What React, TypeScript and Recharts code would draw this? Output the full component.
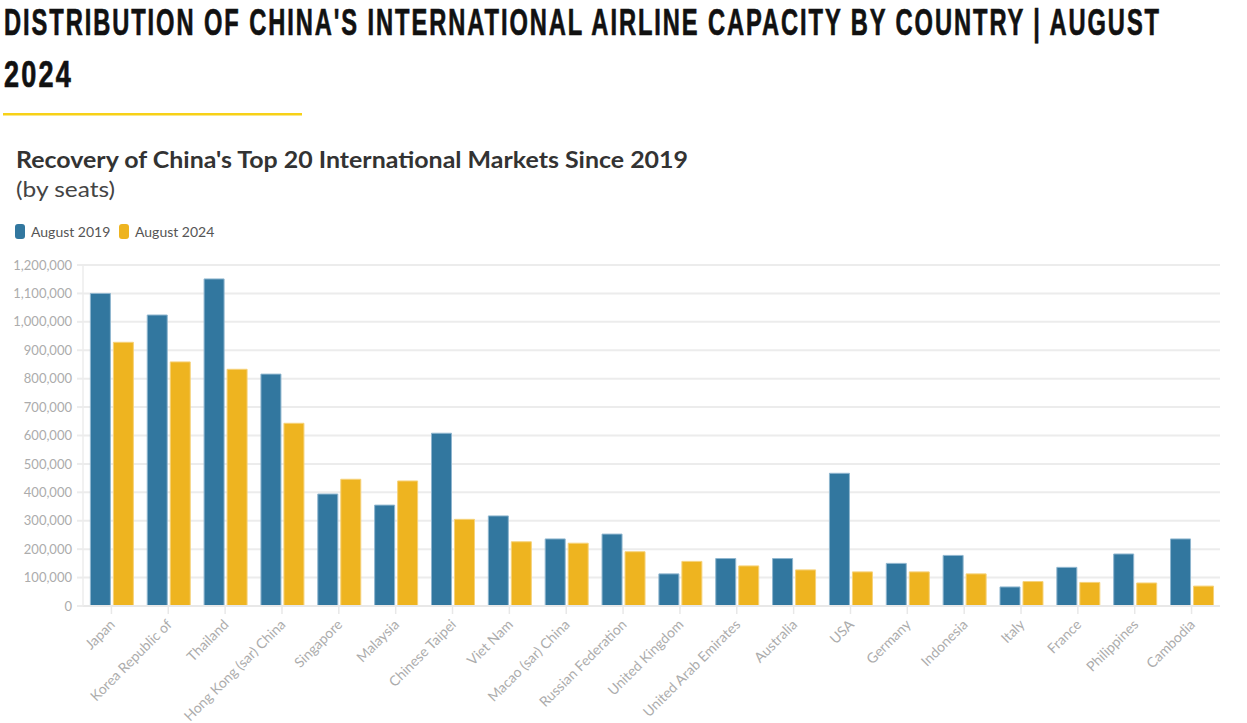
// @ts-nocheck
import React from 'react';
import { BarChart, Bar, XAxis, YAxis, CartesianGrid } from 'recharts';

const countries = [
  'Japan',
  'Korea Republic of',
  'Thailand',
  'Hong Kong (sar) China',
  'Singapore',
  'Malaysia',
  'Chinese Taipei',
  'Viet Nam',
  'Macao (sar) China',
  'Russian Federation',
  'United Kingdom',
  'United Arab Emirates',
  'Australia',
  'USA',
  'Germany',
  'Indonesia',
  'Italy',
  'France',
  'Philippines',
  'Cambodia',
];

const aug2019 = [
  1100000, 1024000, 1151000, 816000, 394000, 355000, 608000, 317000, 236000, 253000,
  113000, 167000, 167000, 467000, 150000, 178000, 67000, 136000, 183000, 236000,
];

const aug2024 = [
  928000, 859000, 833000, 643000, 446000, 440000, 305000, 226000, 221000, 191000,
  157000, 141000, 127000, 120000, 120000, 113000, 86000, 83000, 81000, 70000,
];

const yTicks = [0, 100000, 200000, 300000, 400000, 500000, 600000, 700000, 800000, 900000, 1000000, 1100000, 1200000];

const BLUE = '#32779f';
const YELLOW = '#eeb420';
const FONT = 'Lato, "Noto Sans", sans-serif';
const TITLE_FONT = '"Liberation Sans", "DejaVu Sans", sans-serif';

const data = countries.map((c, i) => ({ country: c, y2019: aug2019[i], y2024: aug2024[i] }));

const XTick = ({ x, y, payload }) => (
  <g transform={`translate(${x + 1},${y + 6}) rotate(-45)`}>
    <text x={0} y={0} dy="0.35em" textAnchor="end" fill="#acacac" fontSize={14} fontFamily={FONT}>
      {payload.value}
    </text>
  </g>
);

export default function App() {
  return (
    <div style={{ position: 'absolute', left: 0, top: 0, width: 1247, height: 723, background: '#fff', overflow: 'hidden' }}>
      <svg width={1247} height={250} style={{ position: 'absolute', left: 0, top: 0 }}>
        <text x={4} y={35} fontFamily={TITLE_FONT} fontWeight={700} fontSize={37} letterSpacing={3} fill="#111" stroke="#111" strokeWidth={0.7} textLength={1157} lengthAdjust="spacingAndGlyphs">
          DISTRIBUTION OF CHINA'S INTERNATIONAL AIRLINE CAPACITY BY COUNTRY | AUGUST
        </text>
        <text x={4} y={87} fontFamily={TITLE_FONT} fontWeight={700} fontSize={37} letterSpacing={3} fill="#111" stroke="#111" strokeWidth={0.7} textLength={69} lengthAdjust="spacingAndGlyphs">
          2024
        </text>
        <rect x={3} y={113} width={299} height={2.5} fill="#f7d117" />
        <text x={16} y={168} fontFamily={FONT} fontWeight={700} fontSize={22} fill="#333" textLength={672} lengthAdjust="spacingAndGlyphs">
          Recovery of China's Top 20 International Markets Since 2019
        </text>
        <text x={16} y={197} fontFamily={FONT} fontSize={22} fill="#444" textLength={99} lengthAdjust="spacingAndGlyphs">
          (by seats)
        </text>
        <rect x={15} y={224} width={10} height={15} rx={3} fill={BLUE} />
        <text x={31} y={236.5} fontFamily={FONT} fontSize={14} fill="#555">August 2019</text>
        <rect x={119} y={224} width={10} height={15} rx={3} fill={YELLOW} />
        <text x={135} y={236.5} fontFamily={FONT} fontSize={14} fill="#555">August 2024</text>
      </svg>
      <div style={{ position: 'absolute', left: 0, top: 250 }}>
        <BarChart
          width={1247}
          height={473}
          data={data}
          margin={{ top: 15, right: 27, bottom: 7, left: 0 }}
          barCategoryGap="13%"
          barGap={3}
        >
          <CartesianGrid vertical={false} stroke="#ececec" strokeWidth={2} />
          <XAxis
            dataKey="country"
            interval={0}
            height={110}
            tick={<XTick />}
            tickSize={8}
            tickMargin={2}
            axisLine={{ stroke: '#e8e8e8', strokeWidth: 2 }}
            tickLine={{ stroke: '#e8e8e8', strokeWidth: 1.5 }}
          />
          <YAxis
            width={83}
            domain={[0, 1200000]}
            ticks={yTicks}
            interval={0}
            tickFormatter={(v) => Number(v).toLocaleString('en-US')}
            tick={{ fill: '#acacac', fontSize: 13, fontFamily: FONT }}
            tickSize={6}
            tickMargin={5}
            axisLine={{ stroke: '#ececec', strokeWidth: 1.5 }}
            tickLine={{ stroke: '#ececec', strokeWidth: 2 }}
          />
          <Bar dataKey="y2019" name="August 2019" fill={BLUE} stroke="#8fb6cf" strokeWidth={1} isAnimationActive={false} />
          <Bar dataKey="y2024" name="August 2024" fill={YELLOW} stroke="#f6d27a" strokeWidth={1} isAnimationActive={false} />
        </BarChart>
      </div>
    </div>
  );
}
